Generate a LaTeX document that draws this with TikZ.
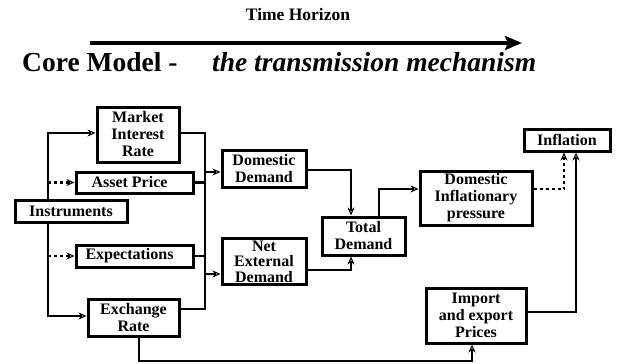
\documentclass[tikz,border=0pt]{standalone}
\usepackage{fontspec}
\setmainfont{Liberation Serif}
\usetikzlibrary{arrows.meta}

\tikzset{
  box/.style={draw, line width=3pt, fill=white, inner sep=0pt, align=center,
    font=\bfseries\fontsize{16}{17}\selectfont},
  conn/.style={line width=2.7pt,
    -{Stealth[open, length=8pt, width=7pt, inset=2.5pt, line width=1pt]}},
  dotconn/.style={conn, dash pattern=on 3pt off 3pt},
  wire/.style={line width=2.7pt}
}

\begin{document}
\begin{tikzpicture}[x=1pt, y=-1pt]

  \useasboundingbox (0,0) rectangle (622,364);

  % Title
  \node[font=\bfseries\fontsize{17.5}{19}\selectfont] (horizon) at (298,15) {Time Horizon};
  \coordinate (t0) at (90,43);
  \coordinate (t1) at (522,43);
  \draw[line width=4.5pt, -{Stealth[length=17pt, width=14pt, inset=3pt]}] (t0) -- (t1);
  \node[anchor=base west, inner sep=0pt, font=\bfseries\fontsize{27.5}{30}\selectfont]
    (core) at (22,71) {Core Model -};
  \node[anchor=base west, inner sep=0pt, font=\bfseries\itshape\fontsize{27.5}{30}\selectfont]
    (mech) at (212,71) {the transmission mechanism};

  % Policy side
  \node[box, minimum width=82pt, minimum height=55pt] (rate) at (138,134.5) {Market\\Interest\\Rate};
  \node[box, minimum width=117pt, minimum height=21pt] (asset) at (134.5,182.5) {Asset Price\hspace{10pt}};
  \node[box, minimum width=112pt, minimum height=22pt] (instr) at (71,211) {Instruments};
  \node[box, minimum width=117pt, minimum height=22pt] (expect) at (134.5,256) {Expectations\hspace{10pt}};
  \node[box, minimum width=91pt, minimum height=37pt] (exch) at (133.5,317.5) {Exchange\\Rate};

  % Demand side
  \node[box, minimum width=84pt, minimum height=37pt] (domdem) at (264,168.5) {Domestic\\Demand};
  \node[box, minimum width=84pt, minimum height=46pt, font=\bfseries\fontsize{16}{15.5}\selectfont]
    (netdem) at (264,261.5) {Net\\External\\Demand};
  \node[box, minimum width=83pt, minimum height=38pt] (totdem) at (363.5,236) {Total\\Demand};

  % Prices
  \node[box, minimum width=112pt, minimum height=54pt] (pressure) at (476,198) {Domestic\\Inflationary\\pressure};
  \node[box, minimum width=86pt, minimum height=22pt] (inflation) at (567,140) {Inflation};
  \node[box, minimum width=100pt, minimum height=55pt] (imports) at (476,315.5) {Import\\and export\\Prices};

  % Instruments to the channels
  \coordinate (split) at (48,133);
  \coordinate (splitlow) at (48,316);
  \draw[conn] (instr.north -| split) -- (split) -- (split -| rate.west);
  \draw[dotconn] (split |- asset) -- (asset.west);
  \draw[dotconn] (split |- expect) -- (expect.west);
  \draw[conn] (instr.south -| split) -- (splitlow) -- (splitlow -| exch.west);

  % Channels to the demand bus
  \coordinate (bus) at (205,133);
  \coordinate (buslow) at (205,309);
  \draw[wire] (split -| rate.east) -- (bus) -- (buslow) -- (buslow -| exch.east);
  \draw[wire] (asset.east) -- (asset.east -| bus);
  \draw[wire] (expect.east) -- (expect.east -| bus);
  \coordinate (domin) at (205,172);
  \coordinate (netin) at (205,274);
  \draw[conn] (domin) -- (domin -| domdem.west);
  \draw[conn] (netin) -- (netin -| netdem.west);

  % Demand to total demand
  \coordinate (domout) at (351,170);
  \coordinate (netout) at (351,270);
  \draw[conn] (domout -| domdem.east) -- (domout) -- (domout |- totdem.north);
  \draw[conn] (netout -| netdem.east) -- (netout) -- (netout |- totdem.south);

  % Total demand to prices
  \coordinate (totout) at (379,189);
  \draw[conn] (totout |- totdem.north) -- (totout) -- (totout -| pressure.west);

  % Prices to inflation
  \coordinate (presout) at (564,189);
  \coordinate (impout) at (576,312);
  \draw[dotconn] (presout -| pressure.east) -- (presout) -- (presout |- inflation.south);
  \draw[conn] (impout -| imports.east) -- (impout) -- (impout |- inflation.south);

  % Exchange rate to import prices
  \coordinate (low) at (139,361);
  \coordinate (impin) at (472,361);
  \draw[conn] (low |- exch.south) -- (low) -- (impin) -- (impin |- imports.south);

\end{tikzpicture}
\end{document}
